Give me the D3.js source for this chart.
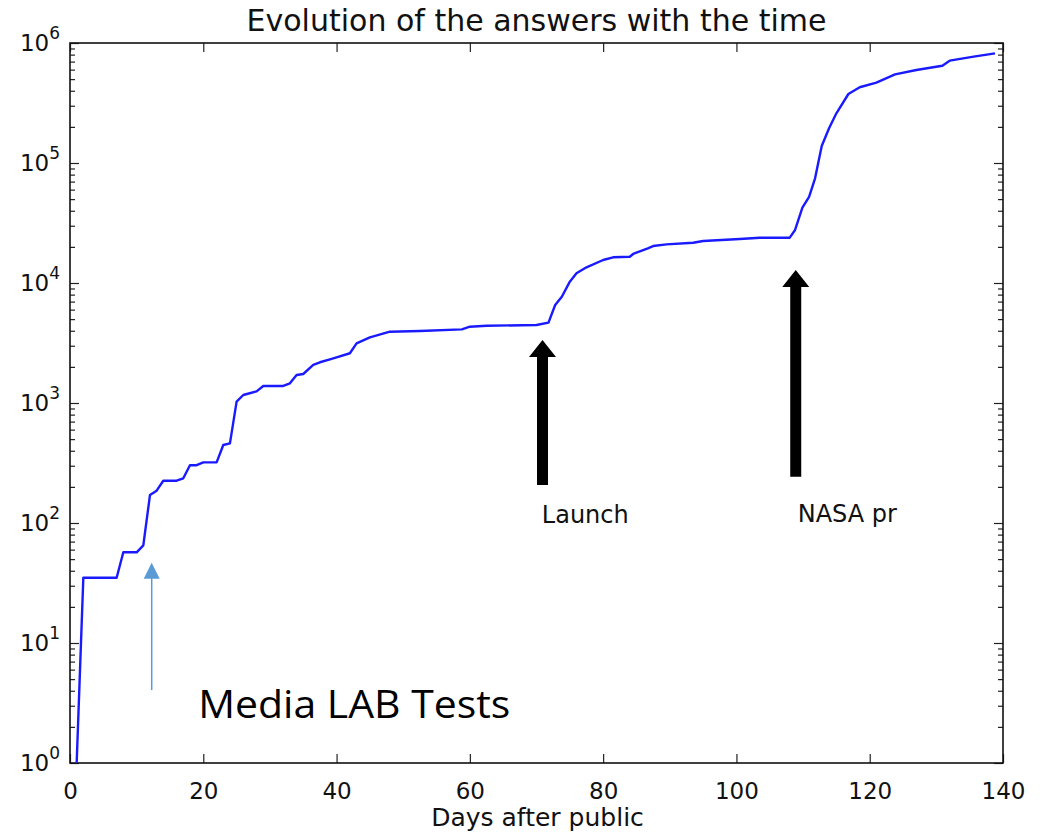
<!DOCTYPE html>
<html>
<head>
<meta charset="utf-8">
<script src="https://cdn.jsdelivr.net/npm/d3@7"></script>
<style>
  html, body { margin: 0; padding: 0; background: #fff; }
  svg { display: block; font-family: "DejaVu Sans", sans-serif; }
</style>
</head>
<body>
<div id="chart"></div>
<script>
// ---- Data ----
const days = [1, 2, 7, 8, 10, 11, 12, 13, 14, 16, 17, 18, 19, 20, 22, 23, 24, 25, 26, 28,
  29, 32, 33, 34, 35, 36.5, 37.5, 39, 40, 42, 43, 45, 48, 52.5, 58.8, 60, 62.5, 70, 71.8,
  72.8, 73.8, 75, 76, 77.5, 80, 81.5, 84, 84.5, 86.7, 87.5, 89.5, 93.5, 95, 100.5, 103.5,
  108, 108.8, 109.9, 110.9, 111.8, 112.8, 113.9, 115, 116.8, 118.5, 121, 123.8, 127,
  130.9, 132, 135.6, 138.8];
const answers = [1, 35, 35, 57, 57, 65, 171, 186, 225, 225, 236, 303, 303, 320, 320, 447,
  461, 1026, 1166, 1250, 1386, 1386, 1458, 1711, 1745, 2074, 2185, 2312, 2404, 2597, 3143,
  3528, 3927, 3981, 4110, 4325, 4400, 4467, 4670, 6560, 7690, 10260, 12050, 13520, 15550,
  16370, 16560, 17450, 19460, 20330, 20990, 21660, 22390, 23270, 23860, 23860, 27650,
  42500, 52320, 74500, 138600, 194500, 259500, 375800, 427700, 467000, 548000, 595700,
  646900, 712400, 769800, 820000];

const xTicks = [0, 20, 40, 60, 80, 100, 120, 140];
const yExponents = [0, 1, 2, 3, 4, 5, 6];

// annotations: [day, tipValue, tailValue]
const bigArrows = [
  { label: 'Launch', day: 70.9, tip: 3350, tail: 207, textDay: 70.8, textVal: 100 },
  { label: 'NASA pr', day: 108.9, tip: 12830, tail: 243, textDay: 109.2, textVal: 102 }
];
const mediaArrow = { day: 12.26, tip: 46.7, tail: 4.06, textDay: 19.25, textVal: 2.36, label: 'Media LAB Tests' };

// ---- Layout ----
const W = 1050, H = 836;
const margin = { top: 43, right: 47, bottom: 73, left: 70 };
const iw = W - margin.left - margin.right;
const ih = H - margin.top - margin.bottom;

const svg = d3.select('#chart').append('svg').attr('width', W).attr('height', H);
const g = svg.append('g').attr('transform', `translate(${margin.left},${margin.top})`);

const x = d3.scaleLinear().domain([0, 140]).range([0, iw]);
const y = d3.scaleLog().domain([1, 1e6]).range([ih, 0]);

const majorVals = yExponents.map(e => Math.pow(10, e));
const minorVals = [];
yExponents.slice(0, -1).forEach(e => {
  for (let k = 2; k <= 9; k++) minorVals.push(k * Math.pow(10, e));
});

const tickCol = '#222';

// ---- Axes (inward ticks on all four sides) ----
function styleAxis(sel) {
  sel.select('.domain').remove();
  sel.selectAll('line').attr('stroke', tickCol).attr('stroke-width', 1.2);
}

g.append('g').attr('transform', `translate(0,${ih})`)
  .call(d3.axisBottom(x).tickValues(xTicks).tickSize(-9).tickPadding(20).tickFormat(d3.format('d')))
  .call(styleAxis)
  .selectAll('text')
  .attr('font-size', 23).attr('fill', '#111').attr('font-family', '"DejaVu Sans", sans-serif');

g.append('g')
  .call(d3.axisTop(x).tickValues(xTicks).tickSize(-9).tickFormat(''))
  .call(styleAxis);

[['left', 0, d3.axisLeft], ['right', iw, d3.axisRight]].forEach(([side, tx, ax]) => {
  g.append('g').attr('transform', `translate(${tx},0)`)
    .call(ax(y).tickValues(majorVals).tickSize(-9).tickFormat(''))
    .call(styleAxis);
  g.append('g').attr('transform', `translate(${tx},0)`)
    .call(ax(y).tickValues(minorVals).tickSize(-5).tickFormat(''))
    .call(styleAxis);
});

// y tick labels: 10 with superscript exponent
const yLab = g.append('g').selectAll('text').data(yExponents).join('text')
  .attr('x', -10)
  .attr('y', d => y(Math.pow(10, d)))
  .attr('dy', '0.36em')
  .attr('text-anchor', 'end')
  .attr('font-size', 23)
  .attr('fill', '#111');
yLab.append('tspan').text('10');
yLab.append('tspan').attr('font-size', 17).attr('dy', '-0.75em').text(d => d);

// frame
g.append('rect').attr('width', iw).attr('height', ih)
  .attr('fill', 'none').attr('stroke', '#111').attr('stroke-width', 1.6);

// ---- Title and x label ----
svg.append('text')
  .attr('x', margin.left + iw / 2).attr('y', 31)
  .attr('text-anchor', 'middle').attr('font-size', 30).attr('fill', '#111')
  .text('Evolution of the answers with the time');

svg.append('text')
  .attr('x', margin.left + iw / 2 + 1).attr('y', 826)
  .attr('text-anchor', 'middle').attr('font-size', 25).attr('fill', '#111')
  .text('Days after public');

// ---- Series line ----
const pts = days.map((d, i) => [d, answers[i]]);
const line = d3.line().x(d => x(d[0])).y(d => y(d[1]));

g.append('path')
  .datum(pts)
  .attr('d', line)
  .attr('fill', 'none')
  .attr('stroke', '#1a1aff')
  .attr('stroke-width', 2.4)
  .attr('stroke-linejoin', 'round');

// ---- Annotations ----
bigArrows.forEach(a => {
  const cx = x(a.day), ty = y(a.tip), by = y(a.tail);
  const sw = 5.5, hw = 13.5, hl = 17;
  const p = d3.path();
  p.moveTo(cx, ty);
  p.lineTo(cx + hw, ty + hl);
  p.lineTo(cx + sw, ty + hl);
  p.lineTo(cx + sw, by);
  p.lineTo(cx - sw, by);
  p.lineTo(cx - sw, ty + hl);
  p.lineTo(cx - hw, ty + hl);
  p.closePath();
  g.append('path').attr('d', p.toString()).attr('fill', '#000');

  g.append('text')
    .attr('x', x(a.textDay)).attr('y', y(a.textVal))
    .attr('font-size', 24).attr('fill', '#111')
    .text(a.label);
});

{
  const m = mediaArrow;
  const cx = x(m.day), ty = y(m.tip), by = y(m.tail);
  g.append('line')
    .attr('x1', cx).attr('x2', cx).attr('y1', by).attr('y2', ty + 14)
    .attr('stroke', '#5b9bd5').attr('stroke-width', 1.5);
  g.append('path')
    .attr('d', `M${cx},${ty}L${cx + 8},${ty + 16}L${cx - 8},${ty + 16}Z`)
    .attr('fill', '#5b9bd5');
  g.append('text')
    .attr('x', x(m.textDay)).attr('y', y(m.textVal))
    .attr('font-family', '"Open Sans", Lato, sans-serif')
    .attr('font-size', 38).attr('fill', '#000')
    .attr('textLength', 312).attr('lengthAdjust', 'spacingAndGlyphs')
    .text(m.label);
}
</script>
</body>
</html>
